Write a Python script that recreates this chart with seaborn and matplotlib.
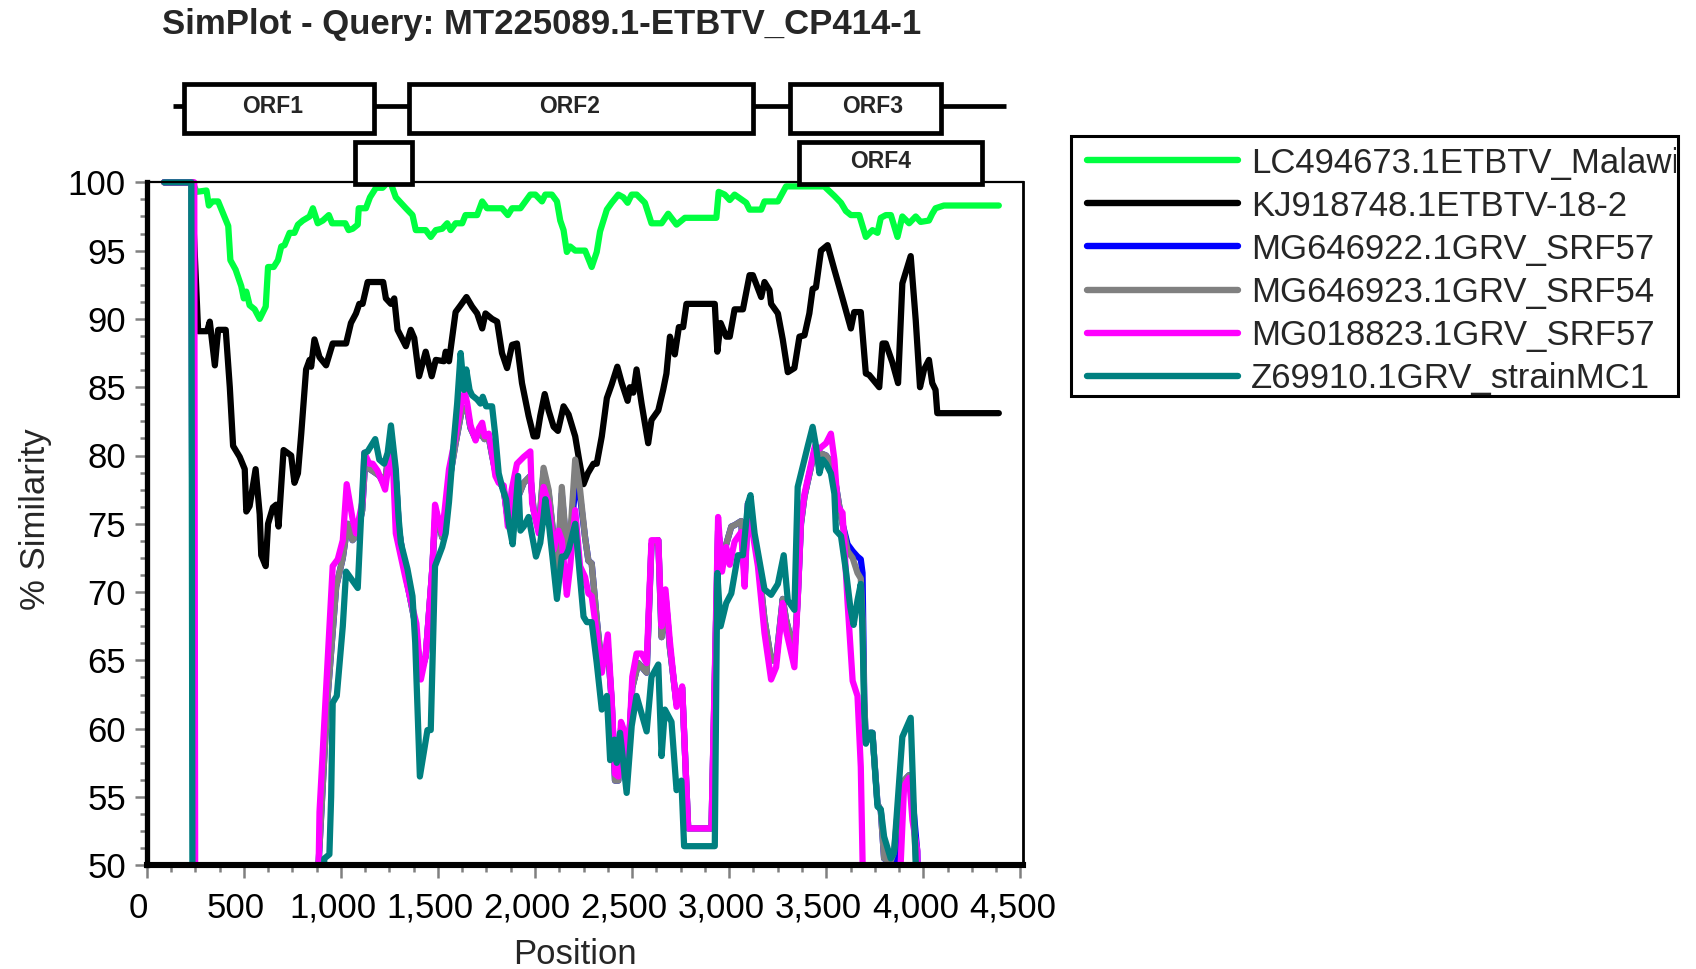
import matplotlib
matplotlib.use("Agg")
import matplotlib.pyplot as plt
import matplotlib.transforms as mtransforms
from matplotlib.patches import Rectangle
from matplotlib.ticker import MultipleLocator, StrMethodFormatter
import seaborn as sns

# ---------------- data ----------------
title = "SimPlot - Query: MT225089.1-ETBTV_CP414-1"
x_label = "Position"
y_label = "% Similarity"

series_names = ["LC494673.1ETBTV_Malawi", "KJ918748.1ETBTV-18-2", "MG646922.1GRV_SRF57",
                "MG646923.1GRV_SRF54", "MG018823.1GRV_SRF57", "Z69910.1GRV_strainMC1"]
series_colors = ["#00ff40", "#000000", "#0000ff", "#808080", "#ff00ff", "#008080"]

green_pts = [(90,100),(236,100),(257,99.3),(308,99.4),(320,98.3),(339,98.6),(368,98.6),(394,97.7),(420,96.8),
    (431,94.3),(458,93.6),(487,92.4),(500,91.5),(513,92),(530,91),(556,90.7),(582,90),(613,90.9),(625,93.8),
    (654,93.8),(676,94.3),(693,95.3),(710,95.4),(736,96.3),(761,96.3),(779,96.9),(804,97.2),(839,97.5),(856,98.1),
    (881,97),(907,97.2),(938,97.6),(955,97),(993,97),(1023,97),(1040,96.5),(1061,96.6),(1087,96.9),(1092,98.1),
    (1129,98.1),(1150,98.9),(1181,99.6),(1215,99.6),(1241,100),(1258,99.9),(1283,98.9),(1309,98.5),(1335,98.1),
    (1369,97.6),(1386,96.5),(1437,96.5),(1463,96),(1489,96.5),(1522,96.6),(1548,97),(1565,96.5),(1591,97),
    (1625,97),(1642,97.6),(1702,97.6),(1728,98.6),(1753,98.1),(1830,98.1),(1860,97.6),(1882,98.1),(1925,98.1),
    (1976,99.1),(2002,99.1),(2036,98.6),(2053,99.1),(2087,99.1),(2113,98.6),(2130,97.2),(2147,96.5),(2164,94.9),
    (2181,95.3),(2207,95),(2258,95),(2292,93.8),(2318,94.9),(2335,96.4),(2370,98),(2395,98.5),(2429,99.1),
    (2455,98.9),(2477,98.5),(2498,99.1),(2524,99.1),(2566,98.5),(2600,97),(2652,97),(2686,97.7),(2729,96.9),
    (2772,97.4),(2934,97.4),(2946,99.3),(2977,99.1),(3003,98.7),(3028,99.1),(3088,98.5),(3105,98),(3165,98),
    (3182,98.6),(3251,98.6),(3293,99.7),(3490,99.7),(3542,99),(3576,98.5),(3601,97.9),(3627,97.6),(3670,97.6),
    (3704,96),(3738,96.5),(3764,96.3),(3781,97.4),(3807,97.6),(3833,97.6),(3867,96),(3892,97.5),(3927,97),
    (3961,97.5),(3986,97.1),(4029,97.2),(4046,97.7),(4063,98.1),(4106,98.3),(4389,98.3)]

black_pts = [(90,100),(236,100),(240,97.2),(265,89.1),(311,89.1),(325,89.8),(351,86.6),(368,89.2),(407,89.2),
    (428,85),(445,80.7),(479,79.9),(505,79),(513,75.9),(530,76.3),(561,79),(582,75.7),(590,72.7),(613,71.9),
    (625,75),(650,76.2),(667,76.4),(679,74.8),(705,80.4),(744,80),(761,78),(779,78.7),(796,81.6),(821,86.3),
    (839,87),(847,86.5),(864,88.5),(890,87.2),(924,86.6),(958,88.2),(1027,88.2),(1052,89.7),(1078,90.4),
    (1095,91.1),(1112,91.1),(1138,92.7),(1218,92.7),(1232,91.5),(1258,91.1),(1275,91.5),(1292,89.2),(1335,88),
    (1360,89.2),(1378,88.6),(1403,85.8),(1437,87.6),(1468,85.8),(1489,87),(1531,86.9),(1540,87.6),(1557,86.9),
    (1591,90.5),(1617,91),(1647,91.6),(1676,90.9),(1702,90.4),(1728,89.3),(1745,90.4),(1779,90),(1805,89.8),
    (1830,87.5),(1856,86.4),(1882,88.1),(1907,88.2),(1933,85.3),(1967,82.9),(1993,81.4),(2010,81.4),(2027,82.9),
    (2050,84.5),(2070,83.3),(2096,82.1),(2118,81.8),(2147,83.6),(2173,83),(2207,81.4),(2227,79.7),(2250,77.9),
    (2272,78.7),(2301,79.4),(2318,79.4),(2344,81.4),(2370,84.2),(2395,85.2),(2424,86.5),(2447,85.3),(2477,84),
    (2489,85),(2506,84.6),(2523,86.3),(2549,83.8),(2583,80.9),(2600,82.6),(2635,83.3),(2660,84.8),(2677,86),
    (2695,88.7),(2720,87.4),(2741,89.4),(2763,89.4),(2780,91.1),(2926,91.1),(2939,87.6),(2956,89.7),(2985,88.7),
    (3003,88.7),(3028,90.7),(3071,90.7),(3105,93.2),(3122,93.2),(3165,91.6),(3182,92.7),(3208,92.1),(3216,91.1),
    (3251,90.4),(3276,88.5),(3302,86.1),(3336,86.4),(3362,88.7),(3388,88.8),(3413,90.4),(3430,92.2),(3447,92.3),
    (3473,95),(3507,95.4),(3542,93.6),(3584,91.5),(3627,89.3),(3644,90.5),(3678,90.5),(3704,86),(3721,85.9),
    (3773,85),(3790,88.2),(3807,88.2),(3841,86.8),(3870,85.3),(3892,92.6),(3935,94.6),(3961,89.9),(3983,85),
    (4004,86.3),(4029,87),(4046,85.3),(4063,84.8),(4072,83.1),(4389,83.1)]

blue_pts = [(90,100),(230,100),(240,45),(860,45),(886,50.3),(930,62),(976,70.4),(1010,72.5),(1035,75),
    (1060,73.8),(1085,74.2),(1110,76),(1125,79.5),(1150,79),(1181,78.7),(1200,78.5),(1225,77.8),(1245,80),
    (1260,81),(1285,78),(1300,74.5),(1340,70.8),(1385,67.5),(1410,64),(1437,65.3),(1470,71.5),(1488,76),
    (1522,74),(1557,78),(1590,80.8),(1625,83.5),(1651,83.3),(1668,82),(1694,81.2),(1711,81.8),(1740,81.2),
    (1762,81.3),(1779,80),(1796,78.8),(1813,78.2),(1839,77.5),(1865,74.8),(1900,76.5),(1942,78),(1976,78.5),
    (1993,76),(2019,74.5),(2044,78.8),(2070,77.3),(2096,74),(2113,71),(2138,77.2),(2164,73),(2181,74),
    (2207,77.5),(2232,77),(2258,74),(2275,72.3),(2292,72.1),(2318,68),(2344,64.5),(2375,66),(2395,62),
    (2412,56.2),(2429,56.2),(2443,60),(2463,59.5),(2480,58),(2501,63),(2532,64.8),(2575,64.1),(2600,73.5),
    (2635,73.8),(2652,66.7),(2672,69.8),(2694,66),(2729,61.8),(2758,63),(2789,52.7),(2909,52.7),(2943,74.5),
    (2963,72.5),(2985,73.5),(3011,74.8),(3028,74.9),(3062,75.2),(3080,71),(3097,76.5),(3148,72.5),(3182,68),
    (3216,65),(3242,65),(3276,69.5),(3293,68),(3336,65.5),(3353,69.5),(3370,75),(3388,77),(3422,79.2),
    (3442,80.5),(3465,80.2),(3499,80),(3524,79.5),(3542,78.5),(3567,76.3),(3584,75),(3610,73.5),(3636,73),
    (3661,72.6),(3678,72.4),(3687,71.4),(3696,62),(3704,59),(3726,59.7),(3738,59.7),(3764,54.5),(3781,54),
    (3798,50.5),(3832,50.2),(3858,50.4),(3875,55),(3901,56.2),(3927,56.6),(3944,55),(3969,51),(3978,45),(4389,45)]

gray_pts = [(90,100),(230,100),(240,45),(860,45),(886,50.3),(930,62),(976,70.4),(1010,72.5),(1035,75),
    (1060,73.8),(1085,74.2),(1110,76),(1125,79.5),(1150,79),(1181,78.7),(1200,78.5),(1225,77.8),(1245,80),
    (1260,81),(1285,78),(1300,74.5),(1340,70.8),(1385,67.5),(1410,64),(1437,65.3),(1470,71.5),(1488,76),
    (1522,74),(1557,78),(1590,80.8),(1625,83.5),(1651,83.3),(1668,82),(1694,81.2),(1711,81.8),(1740,81.2),
    (1762,81.3),(1779,80),(1796,78.8),(1813,78.2),(1839,77.5),(1865,74.8),(1900,76.5),(1942,78),(1976,78.5),
    (1993,76),(2019,74.5),(2044,79.1),(2070,77.5),(2096,74),(2113,71),(2138,77.7),(2164,73),(2181,74),
    (2207,79.7),(2232,77.5),(2258,74),(2275,72.3),(2292,72.1),(2318,68),(2344,64.5),(2375,66),(2395,62),
    (2412,56.2),(2429,56.2),(2443,60),(2463,59.5),(2480,58),(2501,63),(2532,64.8),(2575,64.1),(2600,73.5),
    (2635,73.8),(2652,66.7),(2672,69.8),(2694,66),(2729,61.8),(2758,63),(2789,52.7),(2909,52.7),(2943,74.5),
    (2963,72.5),(2985,73.5),(3011,74.8),(3028,74.9),(3062,75.2),(3080,71),(3097,76.5),(3148,72.5),(3182,68),
    (3216,65),(3242,65),(3276,69.5),(3293,68),(3336,65.5),(3353,69.5),(3370,75),(3388,77),(3422,79.2),
    (3442,80.5),(3465,80.2),(3499,80),(3524,79.5),(3542,78.5),(3567,76.3),(3584,75),(3610,73),(3636,72.5),
    (3661,71.4),(3678,71),(3687,68),(3696,62),(3704,59),(3726,59.7),(3738,59.7),(3764,54.5),(3781,54),
    (3798,50.5),(3832,50.3),(3849,51),(3875,55),(3901,56.2),(3927,56.6),(3944,55),(3961,50.5),(3975,45),(4389,45)]

magenta_pts = [(90,100),(245,100),(250,45),(880,45),(890,53.9),(958,71.9),(984,72.4),(1010,73.8),(1030,77.9),
    (1061,75.3),(1078,74.3),(1112,76.7),(1121,80.2),(1146,79.4),(1164,79.4),(1189,78.9),(1215,78),(1228,77.5),
    (1249,79.7),(1265,80.5),(1283,74.3),(1335,70.9),(1389,67.7),(1412,63.6),(1437,65.3),(1472,71.9),(1485,76.4),
    (1500,75.5),(1522,74.3),(1557,79),(1591,81.4),(1625,84.3),(1639,84.6),(1651,83.8),(1668,82.2),(1694,81.1),
    (1711,82),(1728,82.4),(1741,81.4),(1762,81.6),(1779,80.2),(1796,78.5),(1813,78),(1839,77.8),(1860,74.8),
    (1880,77.5),(1907,79.4),(1942,79.9),(1976,80.3),(1985,76.5),(2019,74.3),(2044,77.7),(2070,76.5),(2096,73.1),
    (2121,74.5),(2138,73.8),(2164,69.8),(2181,71.9),(2207,76),(2232,71.9),(2258,71.1),(2275,69.9),(2292,69.7),
    (2318,67),(2344,64.1),(2375,66.9),(2395,62.1),(2412,56.7),(2429,56.5),(2443,60.5),(2463,59.7),(2480,57.7),
    (2501,63.8),(2523,65.5),(2549,65.5),(2575,64.8),(2600,73.8),(2635,73.8),(2652,67.5),(2672,70.2),(2694,66.5),
    (2729,61.6),(2758,63.1),(2789,52.7),(2909,52.7),(2943,75.5),(2963,71.5),(2985,73.3),(3003,72),(3028,73.7),
    (3062,74.4),(3080,70.4),(3097,76.5),(3148,71.9),(3182,67),(3216,63.6),(3242,64.5),(3276,69.2),(3293,67.2),
    (3336,64.5),(3353,69.4),(3370,75.3),(3388,77.2),(3422,79.4),(3442,80.7),(3465,80.5),(3499,80.9),(3524,81.6),
    (3542,79.7),(3559,76.3),(3584,75.8),(3610,69.2),(3636,63.5),(3661,62.4),(3678,57.2),(3687,50.4),(3690,45),
    (3870,45),(3880,49),(3901,55.8),(3927,56.4),(3944,53.3),(3969,51.1),(3975,45),(4389,45)]

teal_pts = [(90,100),(230,100),(236,45),(900,45),(915,50.5),(941,50.8),(950,55),(958,61.9),(979,62.4),
    (1010,67.5),(1027,71.5),(1052,71),(1087,70.3),(1104,75.5),(1121,80.2),(1138,80.3),(1177,81.2),(1198,79.7),
    (1223,79.4),(1241,80.2),(1258,82.2),(1283,79),(1297,75.5),(1309,73.6),(1343,71.7),(1369,69.7),(1383,66.3),
    (1407,56.5),(1446,59.9),(1463,59.9),(1485,71.9),(1522,73.3),(1540,74.3),(1557,76.6),(1582,81.1),(1599,83.8),
    (1617,87.5),(1634,84.8),(1646,86.3),(1663,84.8),(1676,84.4),(1702,84.1),(1719,83.8),(1731,84.3),(1748,83.6),
    (1779,83.6),(1796,81.4),(1813,78.7),(1834,77.5),(1851,76.8),(1865,75),(1885,73.5),(1913,78.5),(1925,74.5),
    (1942,74.8),(1967,75.5),(2005,72.6),(2027,73.6),(2044,75.5),(2053,76.8),(2073,74.8),(2113,69.5),(2138,72.6),
    (2156,72.6),(2173,73.1),(2207,75),(2224,72.3),(2250,68.2),(2267,67.8),(2292,67.8),(2318,64.8),(2344,61.4),
    (2370,62.4),(2387,57.7),(2409,59.2),(2421,57.5),(2438,59.7),(2472,55.3),(2498,60.2),(2523,62.4),(2549,61.1),
    (2575,59.8),(2600,63.8),(2635,64.7),(2652,58),(2669,61.4),(2703,60.5),(2729,55.5),(2754,56.2),(2768,51.4),
    (2926,51.4),(2939,71.4),(2956,67.5),(2985,69.2),(3011,69.9),(3045,72.7),(3071,72.7),(3097,76.5),(3110,77.1),
    (3131,74.3),(3182,70.2),(3216,69.8),(3251,70.6),(3281,72.7),(3302,69.4),(3336,68.7),(3353,77.7),(3379,79.2),
    (3405,80.7),(3430,82.1),(3447,80.7),(3465,78.7),(3482,79.7),(3499,79.4),(3524,78.7),(3542,77.2),(3550,74.5),
    (3576,74.1),(3601,71.6),(3624,68.9),(3641,67.6),(3661,69.4),(3678,70.6),(3687,67),(3696,61.1),(3704,58.9),
    (3726,59.7),(3738,59.7),(3764,54.3),(3781,54.1),(3798,52.1),(3832,50.5),(3849,50.9),(3892,59.4),(3935,60.8),
    (3961,50.2),(3970,45),(4389,45)]

series_points = [green_pts, black_pts, blue_pts, gray_pts, magenta_pts, teal_pts]

# genome map (ORFs)
genome_span = (136, 4424)
orf_names = ["ORF1", "ORF2", "ORF3", "", "ORF4"]
orf_start = [192, 1352, 3311, 1074, 3358]
orf_end = [1172, 3125, 4089, 1368, 4301]
orf_row = [1, 1, 1, 2, 2]

x_max = 4515
y_min, y_max = 50, 100

# ---------------- figure ----------------
sns.set_theme(style="ticks")
plt.rcParams["font.family"] = ["Liberation Sans", "DejaVu Sans"]

W, H = 1696, 969
fig = plt.figure(figsize=(W / 100, H / 100), dpi=100)
fig.patch.set_facecolor("white")
L, R, T, B = 146.7, 1023.3, 182.3, 865.3
ax = fig.add_axes([L / W, 1 - B / H, (R - L) / W, (B - T) / H])
ax.set_facecolor("white")

for name, col, pts in zip(series_names, series_colors, series_points):
    xs = [p[0] for p in pts]
    ys = [p[1] for p in pts]
    sns.lineplot(x=xs, y=ys, color=col, lw=4.5, ax=ax, label=name, sort=False,
                 estimator=None, solid_joinstyle="round", solid_capstyle="round")

clip_rect = Rectangle((0, 0), 1, 1.015, transform=ax.transAxes)
for ln in ax.lines:
    ln.set_clip_path(clip_rect)

ax.set_xlim(0, x_max)
ax.set_ylim(y_min, y_max)
ax.xaxis.set_major_locator(MultipleLocator(500))
ax.xaxis.set_minor_locator(MultipleLocator(125))
ax.yaxis.set_major_locator(MultipleLocator(5))
ax.yaxis.set_minor_locator(MultipleLocator(1.25))
ax.xaxis.set_major_formatter(StrMethodFormatter("{x:,.0f}"))

for side, lw in [("left", 3.8), ("bottom", 4.4), ("top", 1.6), ("right", 2.0)]:
    ax.spines[side].set_visible(True)
    ax.spines[side].set_linewidth(lw)
    ax.spines[side].set_color("black")

ax.tick_params(which="both", direction="out", color="#808080", width=1.8, labelsize=25,
               labelcolor="black")
ax.tick_params(which="major", length=9)
ax.tick_params(which="minor", length=5)
ax.tick_params(axis="x", which="major", pad=10)
ax.tick_params(axis="y", which="major", pad=6)

offset = mtransforms.ScaledTranslation(-8 / 100, 0, fig.dpi_scale_trans)
for lab in ax.get_xticklabels():
    lab.set_transform(lab.get_transform() + offset)

ax.set_xlabel(x_label, fontsize=25)
ax.set_ylabel(y_label, fontsize=25)
ax.xaxis.set_label_coords(0.489, -0.107)
ax.yaxis.set_label_coords(-0.108, 0.507)

# legend with fixed, clipping frame
handles, labels = ax.get_legend_handles_labels()
leg = ax.legend(handles, labels, loc="upper left", bbox_to_anchor=(1087 / W, 1 - 146.5 / H),
                bbox_transform=fig.transFigure, frameon=False, fontsize=25,
                handlelength=4.35, handletextpad=0.37, labelspacing=0.29,
                borderpad=0, borderaxespad=0)
for ln in leg.get_lines():
    ln.set_linewidth(4.6)
    ln.set_solid_capstyle("round")
frame = Rectangle((1071 / W, 1 - 396 / H), 607 / W, 260 / H, transform=fig.transFigure,
                  fill=False, edgecolor="black", lw=2.2, zorder=5)
fig.patches.append(frame)
leg_clip = Rectangle((1071 / W, 1 - 396 / H), 605 / W, 260 / H, transform=fig.transFigure)
for t in leg.get_texts():
    t.set_clip_on(True)
    t.set_clip_path(leg_clip)

# ORF map above the plot
ax_orf = fig.add_axes([L / W, 1 - 195 / H, (R - L) / W, (195 - 75) / H], zorder=3)
ax_orf.set_xlim(0, x_max)
ax_orf.set_ylim(195, 75)
ax_orf.axis("off")
ax_orf.patch.set_alpha(0)
row_geom = {1: (84, 133), 2: (142, 184)}
label_shift = [-35, -60, 40, 0, -50]
ax_orf.plot(list(genome_span), [106, 106], color="black", lw=3.4, solid_capstyle="butt", zorder=1)
for name, s, e, r, dx in zip(orf_names, orf_start, orf_end, orf_row, label_shift):
    y0, y1 = row_geom[r]
    ax_orf.add_patch(Rectangle((s, y0), e - s, y1 - y0, facecolor="white", edgecolor="black",
                               lw=3.4, zorder=2))
    if name:
        ax_orf.text((s + e) / 2 + dx, (y0 + y1) / 2 - 2, name, ha="center", va="center",
                    fontsize=16.5, fontweight="bold", zorder=3)

fig.text(162 / W, 1 - 8 / H, title, fontsize=25, fontweight="bold", ha="left", va="top")

fig.savefig("out.png", dpi=100, facecolor="white")
